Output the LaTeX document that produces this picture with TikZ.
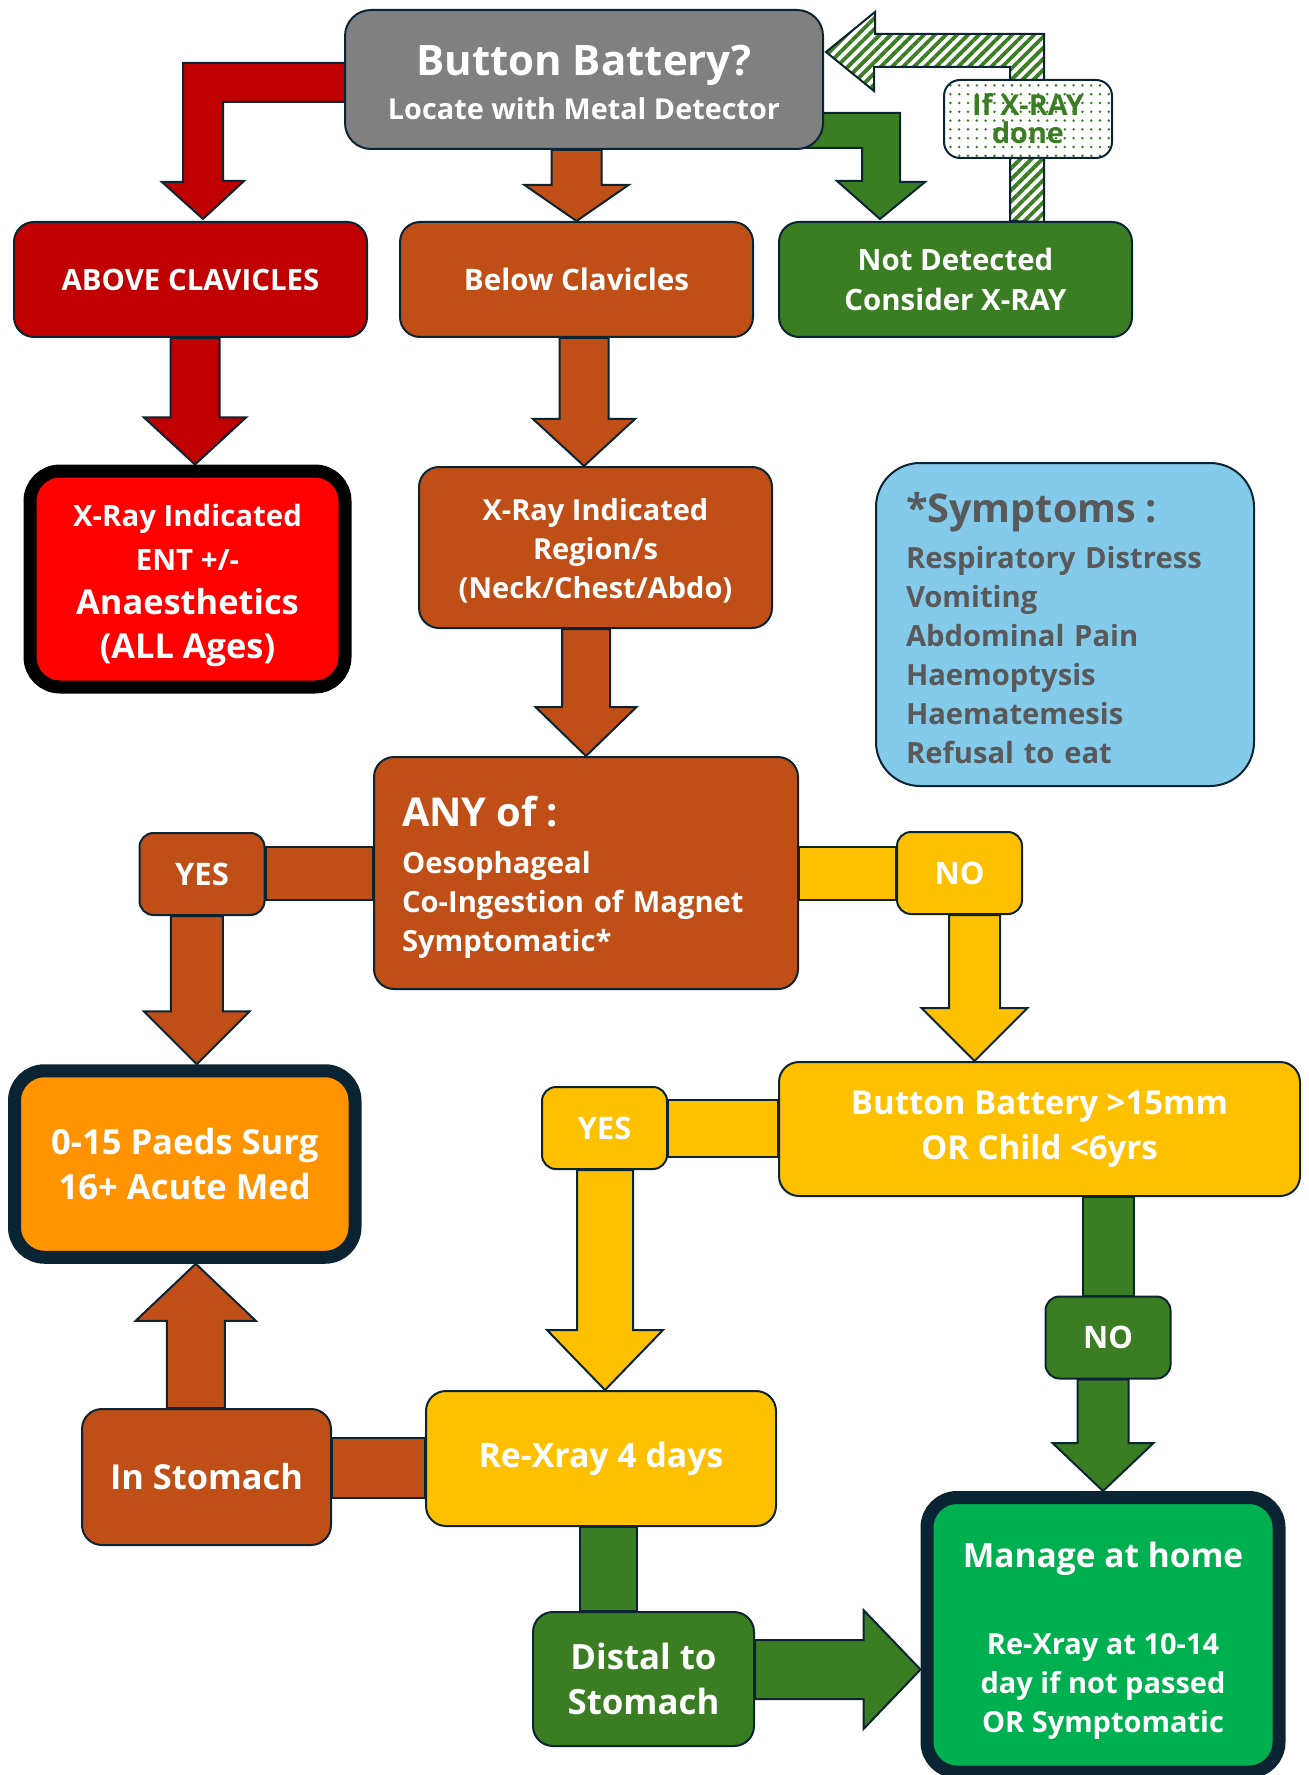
\documentclass[tikz,border=0pt]{standalone}
\usepackage{fontspec}
\setmainfont{Open Sans}
\usetikzlibrary{calc,patterns.meta}

\definecolor{edge}{HTML}{0B2433}
\definecolor{boxgray}{HTML}{808080}
\definecolor{darkred}{HTML}{C00000}
\definecolor{alarmred}{HTML}{FF0000}
\definecolor{rust}{HTML}{BF4F16}
\definecolor{leaf}{HTML}{3B7D23}
\definecolor{amber}{HTML}{FFC000}
\definecolor{paedsorange}{HTML}{FF9300}
\definecolor{skyblue}{HTML}{83CAEB}
\definecolor{homegreen}{HTML}{00B050}
\definecolor{textgray}{HTML}{595959}

\pgfdeclarelayer{background}
\pgfsetlayers{background,main}

\newcommand{\fsz}[2]{\fontsize{#1}{#2}\selectfont}
\newcommand{\lift}[1]{\rule{0pt}{#1}}
% block arrows: from, to, colour, shaft half width, head half width, head length
\newcommand{\fatdown}[6]{\draw[fatedge,fill=#3] let \p1=(#1), \p2=(#2) in
  (\x2-#4,\y1) -- (\x2-#4,\y2+#6) -- (\x2-#5,\y2+#6) -- (\x2,\y2)
  -- (\x2+#5,\y2+#6) -- (\x2+#4,\y2+#6) -- (\x2+#4,\y1) -- cycle;}
\newcommand{\fatup}[6]{\draw[fatedge,fill=#3] let \p1=(#1), \p2=(#2) in
  (\x2-#4,\y1) -- (\x2-#4,\y2-#6) -- (\x2-#5,\y2-#6) -- (\x2,\y2)
  -- (\x2+#5,\y2-#6) -- (\x2+#4,\y2-#6) -- (\x2+#4,\y1) -- cycle;}
\newcommand{\fatright}[6]{\draw[fatedge,fill=#3] let \p1=(#1), \p2=(#2) in
  (\x1,\y1+#4) -- (\x2-#6,\y1+#4) -- (\x2-#6,\y1+#5) -- (\x2,\y1)
  -- (\x2-#6,\y1-#5) -- (\x2-#6,\y1-#4) -- (\x1,\y1-#4) -- cycle;}
% plain bars: from, to, colour, half width
\newcommand{\linkh}[4]{\draw[fatedge,fill=#3] let \p1=(#1), \p2=(#2) in
  (\x1,{(\y1+\y2)/2+#4}) rectangle (\x2,{(\y1+\y2)/2-#4});}
\newcommand{\linkv}[4]{\draw[fatedge,fill=#3] let \p1=(#1), \p2=(#2) in
  (\x2-#4,\y1) rectangle (\x2+#4,\y2);}

\begin{document}
\begin{tikzpicture}[x=0.5pt, y=-0.5pt,
    box/.style={rectangle, rounded corners=10pt, draw=edge, line width=1pt, text=white,
      font=\bfseries, align=center, inner sep=0pt},
    boxsize/.style 2 args={minimum width=#1*0.5pt, minimum height=#2*0.5pt},
    tag/.style={box, rounded corners=7pt, boxsize={125}{82}, font=\bfseries\fsz{15.5}{18}},
    heavy/.style={box, line width=6.5pt, rounded corners=15pt},
    fatedge/.style={draw=edge, line width=1pt}]
   \useasboundingbox (0,0) rectangle (1309,1775);

   \node[box, fill=boxgray, rounded corners=13pt, boxsize={478}{139}, font=\bfseries\fsz{14.4}{22}] (batt) at (584,79.5)
     {{\fsz{21}{22}\lift{18.5pt}Button Battery?}\\Locate with Metal Detector};
   \node[box, draw=edge, rounded corners=8pt, preaction={fill=white},
     pattern={Dots[distance=4.4pt,radius=0.7pt]}, pattern color=leaf, text=leaf,
     boxsize={168}{78}, font=\bfseries\fsz{14.4}{14}] (ifxray) at (1028,119) {If X-RAY\\done};

   \node[box, fill=darkred, boxsize={353}{115}, font=\bfseries\fsz{14.7}{20}] (above) at (190.5,279.5) {ABOVE CLAVICLES};
   \node[box, fill=rust, boxsize={353}{115}, font=\bfseries\fsz{14.8}{20}] (below) at (576.5,279.5) {Below Clavicles};
   \node[box, fill=leaf, boxsize={353}{115}, font=\bfseries\fsz{14.7}{20}] (notdet) at (955.5,279.5) {Not Detected\\Consider X-RAY};

   \node[heavy, draw=black, fill=alarmred, boxsize={315}{216}, font=\bfseries\fsz{14.7}{22}] (xrayent) at (187.5,579)
     {\lift{18pt}X-Ray Indicated\\ENT +/-\\{\fsz{17.2}{22}Anaesthetics}\\{\fsz{17.2}{22}(ALL Ages)}};
   \node[box, fill=rust, boxsize={353}{161}, font=\bfseries\fsz{14.5}{19.5}] (region) at (595.5,547.5)
     {\lift{14pt}X-Ray Indicated\\Region/s\\(Neck/Chest/Abdo)};
   \node[box, fill=skyblue, rounded corners=22pt, text=textgray, align=left, text width=159pt,
     inner xsep=15pt, boxsize={378}{323}, font=\bfseries\fsz{14.6}{19.5}] (symptoms) at (1065,624.5)
     {{\fsz{19.8}{19.5}\lift{19pt}*Symptoms :}\\[3.5pt]Respiratory Distress\\Vomiting\\Abdominal Pain\\Haemoptysis\\Haematemesis\\Refusal to eat};

   \node[box, fill=rust, align=left, text width=184pt, inner xsep=14pt, boxsize={424}{232},
     font=\bfseries\fsz{14.6}{19.5}] (anyof) at (586,873)
     {{\fsz{19.9}{19.5}\lift{19.5pt}ANY of :}\\[4pt]Oesophageal\\Co-Ingestion of Magnet\\Symptomatic*};
   \node[tag, fill=rust] (yes1) at (202,874) {YES};
   \node[tag, fill=amber] (no1) at (959.5,873) {NO};

   \node[heavy, fill=paedsorange, boxsize={340.5}{186.5}, font=\bfseries\fsz{17.3}{22.5}] (paeds) at (184.75,1164)
     {0-15 Paeds Surg\\16+ Acute Med};
   \node[box, fill=amber, boxsize={521}{134}, font=\bfseries\fsz{16.5}{22.5}] (bigbb) at (1039.5,1129)
     {Button Battery >15mm\\OR Child <6yrs};
   \node[tag, fill=amber] (yes2) at (604.5,1128) {YES};
   \node[tag, fill=leaf] (no2) at (1108,1337.5) {NO};

   \node[box, fill=rust, boxsize={249}{136}, font=\bfseries\fsz{17.2}{22}] (stomach) at (206.5,1477) {In Stomach};
   \node[box, fill=amber, boxsize={350}{135}, font=\bfseries\fsz{16.9}{22}] (rexray) at (601,1458.5) {Re-Xray 4 days};
   \node[box, fill=leaf, boxsize={221}{134}, font=\bfseries\fsz{17.4}{22.5}] (distal) at (643.5,1679) {Distal to\\Stomach};
   \node[heavy, fill=homegreen, boxsize={352}{274.5}, font=\bfseries\fsz{14.5}{19.5}] (manage) at (1103,1634.75)
     {{\fsz{16.75}{19.5}\lift{18.5pt}Manage at home}\\[24pt]Re-Xray at 10-14\\day if not passed\\OR Symptomatic};

   \begin{pgfonlayer}{background}
   % bent arrows round the top box
   \draw[fatedge, fill=darkred] ([shift={(10,-16.5)}]batt.west) -- ++(-171,0) -- ++(0,119) -- ++(-21,0)
     -- ([shift={(12.5,-2)}]above.north) -- ++(41,-38) -- ++(-21,0) -- ++(0,-79) -- ++(132,0) -- cycle;
   \draw[fatedge, fill=leaf] ([shift={(-33,33.5)}]batt.east) -- ++(109,0) -- ++(0,69) -- ++(25,0)
     -- ([shift={(-75.5,-2)}]notdet.north) -- ++(-43,-38) -- ++(25,0) -- ++(0,-33) -- ++(-72,0) -- cycle;
   \draw[fatedge, preaction={fill=white}, pattern={Lines[angle=45,distance=3.9pt,line width=1.9pt]},
     pattern color=leaf] ([shift={(54.5,0)}]notdet.north) -- ++(0,-154) -- ++(-136,0) -- ++(0,24)
     -- ([shift={(2,-27.5)}]batt.east) -- ++(49,-40) -- ++(0,22) -- ++(169,0) -- ++(0,188) -- cycle;

   \fatdown{batt.south}{below.north}{rust}{12.5pt}{26pt}{18pt}
   \fatdown{above.south}{[xshift=3.75pt]xrayent.north}{darkred}{12.25pt}{25.5pt}{23.5pt}
   \fatdown{below.south}{[xshift=-5.75pt]region.north}{rust}{12.25pt}{25.5pt}{23.5pt}
   \fatdown{region.south}{anyof.north}{rust}{12pt}{25.25pt}{24.5pt}
   \fatdown{yes1.south}{[xshift=6pt]paeds.north}{rust}{13pt}{26.5pt}{26.5pt}
   \fatdown{no1.south}{[xshift=-32.5pt]bigbb.north}{amber}{12.75pt}{26.5pt}{26.5pt}
   \fatdown{yes2.south}{[xshift=2pt]rexray.north}{amber}{14pt}{29pt}{30pt}
   \fatdown{no2.south}{manage.north}{leaf}{12.75pt}{25.25pt}{24pt}
   \fatup{stomach.north}{[xshift=5.5pt]paeds.south}{rust}{14.5pt}{30pt}{28.5pt}
   \fatright{[yshift=4.75pt]distal.east}{manage.west}{leaf}{14.75pt}{29.75pt}{28.5pt}

   \linkh{yes1.east}{anyof.west}{rust}{13.25pt}
   \linkh{anyof.east}{no1.west}{amber}{13.25pt}
   \linkh{yes2.east}{bigbb.west}{amber}{14.25pt}
   \linkh{stomach.east}{rexray.west}{rust}{15pt}
   \linkv{bigbb.south}{no2.north}{leaf}{12.75pt}
   \linkv{rexray.south}{[xshift=-17.5pt]distal.north}{leaf}{14.25pt}
   \end{pgfonlayer}
 \end{tikzpicture}
\end{document}
